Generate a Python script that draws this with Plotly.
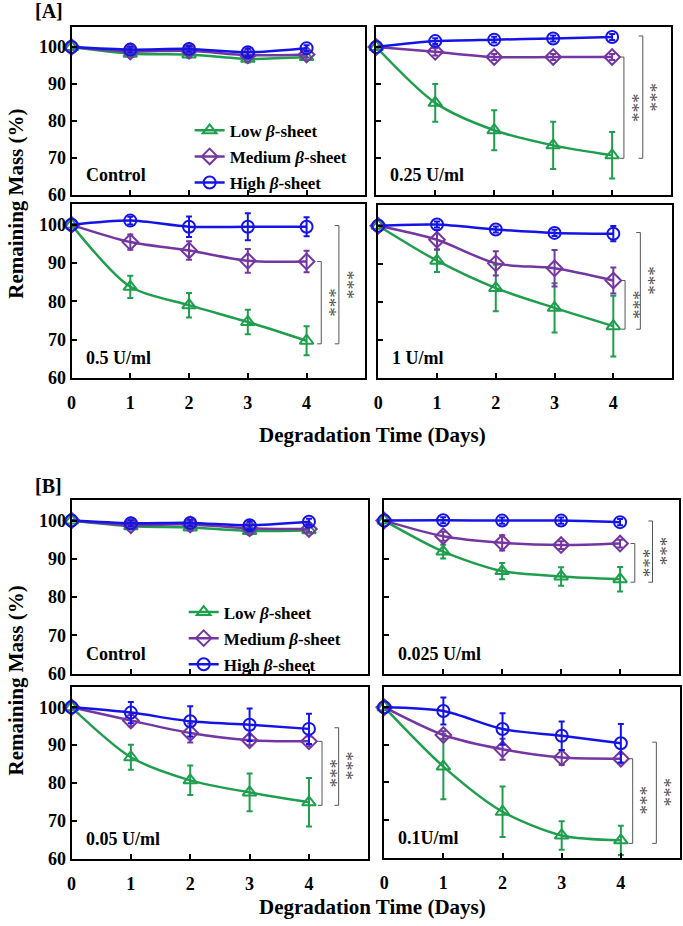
import plotly.graph_objects as go

W, H = 683, 926

days = [0, 1, 2, 3, 4]

# ---------------- Panel A ----------------
A_ctrl_low = [100, 98.2, 98.0, 96.8, 97.3]
A_ctrl_med = [100, 98.8, 99.0, 97.8, 98.0]
A_ctrl_high = [100, 99.3, 99.5, 98.6, 99.7]
A_ctrl_err = [0, 0.8, 0.8, 1.0, 0.8]

A_025_low = [100, 84.9, 77.5, 73.4, 70.7]
A_025_low_err = [0, 5.1, 5.4, 6.4, 6.3]
A_025_med = [100, 98.7, 97.3, 97.3, 97.3]
A_025_med_err = [0, 1.0, 0.8, 0.8, 0.8]
A_025_high = [100, 101.6, 102.0, 102.3, 102.7]
A_025_high_err = [0, 0.8, 0.8, 0.8, 0.8]

A_05_low = [100, 83.8, 79.0, 74.6, 69.7]
A_05_low_err = [0, 2.9, 3.2, 3.2, 3.8]
A_05_med = [100, 95.5, 93.3, 90.6, 90.4]
A_05_med_err = [0, 2.0, 2.4, 3.1, 2.8]
A_05_high = [100, 101.1, 99.5, 99.5, 99.5]
A_05_high_err = [0, 1.0, 2.7, 3.5, 2.5]

A_1_low = [100, 90.8, 83.6, 78.4, 73.6]
A_1_low_err = [0, 3.0, 6.1, 6.5, 8.0]
A_1_med = [100, 96.3, 90.1, 88.8, 85.6]
A_1_med_err = [0, 2.6, 3.2, 4.8, 3.4]
A_1_high = [100, 100.3, 99.0, 98.1, 97.9]
A_1_high_err = [0, 0.8, 0.8, 0.8, 2.0]

# ---------------- Panel B ----------------
B_ctrl_low = [100, 98.5, 98.2, 97.3, 97.5]
B_ctrl_med = [100, 98.8, 99.0, 98.0, 97.8]
B_ctrl_high = [100, 99.3, 99.4, 98.8, 99.7]
B_ctrl_err = [0, 0.8, 0.8, 1.0, 0.8]

B_0025_low = [100, 91.9, 86.8, 85.4, 84.7]
B_0025_low_err = [0, 1.8, 2.1, 2.4, 3.2]
B_0025_med = [100, 95.9, 94.2, 93.6, 94.0]
B_0025_med_err = [0, 1.2, 2.0, 1.0, 1.0]
B_0025_high = [100, 100.1, 100.0, 100.0, 99.6]
B_0025_high_err = [0, 0.8, 0.8, 0.8, 0.8]

B_005_low = [100, 86.8, 80.7, 77.5, 74.9]
B_005_low_err = [0, 3.3, 3.9, 5.0, 6.4]
B_005_med = [100, 96.5, 93.2, 91.3, 91.0]
B_005_med_err = [0, 1.5, 2.5, 1.3, 1.3]
B_005_high = [100, 98.6, 96.3, 95.4, 94.3]
B_005_high_err = [0, 2.8, 4.0, 4.3, 4.0]

B_01_low = [100, 84.2, 72.2, 65.9, 64.6]
B_01_low_err = [0, 8.7, 6.7, 3.8, 3.9]
B_01_med = [100, 92.6, 88.8, 86.6, 86.3]
B_01_med_err = [0, 1.0, 2.8, 2.0, 1.3]
B_01_high = [100, 99.0, 94.2, 92.4, 90.4]
B_01_high_err = [0, 3.6, 4.2, 3.8, 5.1]

panel_labels = ["Control", "0.25 U/ml", "0.5 U/ml", "1 U/ml",
                "Control", "0.025 U/ml", "0.05 U/ml", "0.1U/ml"]
series_names = ["Low <i>β</i>-sheet", "Medium <i>β</i>-sheet", "High <i>β</i>-sheet"]
y_ticks = [60, 70, 80, 90, 100]
x_ticks = [0, 1, 2, 3, 4]
sig_text = "***"

COLORS = ["#1f9e4e", "#7436a0", "#1414e6"]
SYMBOLS = ["triangle-up-open", "diamond-open", "circle-open"]
FONT = "Liberation Serif"

panels = [
    (A_ctrl_low, A_ctrl_err, A_ctrl_med, A_ctrl_err, A_ctrl_high, A_ctrl_err),
    (A_025_low, A_025_low_err, A_025_med, A_025_med_err, A_025_high, A_025_high_err),
    (A_05_low, A_05_low_err, A_05_med, A_05_med_err, A_05_high, A_05_high_err),
    (A_1_low, A_1_low_err, A_1_med, A_1_med_err, A_1_high, A_1_high_err),
    (B_ctrl_low, B_ctrl_err, B_ctrl_med, B_ctrl_err, B_ctrl_high, B_ctrl_err),
    (B_0025_low, B_0025_low_err, B_0025_med, B_0025_med_err, B_0025_high, B_0025_high_err),
    (B_005_low, B_005_low_err, B_005_med, B_005_med_err, B_005_high, B_005_high_err),
    (B_01_low, B_01_low_err, B_01_med, B_01_med_err, B_01_high, B_01_high_err),
]

# pixel boxes: (left, right, top, bottom)
boxes = [
    (67, 363, 27, 197), (374, 671, 27, 197),
    (67, 363, 206, 382), (376, 672, 207, 382),
    (67, 366, 505, 681), (382, 679, 505, 681),
    (67, 366, 694, 868), (382, 680, 694, 867),
]
# bracket x positions (inner, outer) in days, None for control
brackets = [None, (4.2, 4.52), (4.25, 4.55), (4.2, 4.46),
            None, (4.25, 4.55), (4.22, 4.5), (4.2, 4.6)]

fig = go.Figure()
layout = {}
annotations = []
shapes = []

for i, (box, data) in enumerate(zip(boxes, panels)):
    n = i + 1
    xa = "x" if n == 1 else f"x{n}"
    ya = "y" if n == 1 else f"y{n}"
    l, r, t, b = box
    left_col = i % 2 == 0
    bottom_row = i in (2, 3, 6, 7)
    layout[f"xaxis{n}"] = dict(
        domain=[l / W, r / W], anchor=ya, range=[0, 5],
        tickvals=x_ticks, showticklabels=bottom_row,
        ticks="inside", ticklen=5, tickwidth=1.5, tickcolor="black",
        showline=True, linewidth=2, linecolor="black", mirror=True,
        showgrid=False, zeroline=False, ticklabelstandoff=8,
        tickfont=dict(family=FONT, size=18, color="black", weight="bold"),
    )
    layout[f"yaxis{n}"] = dict(
        domain=[1 - b / H, 1 - t / H], anchor=xa, range=[60, 105.5],
        tickvals=y_ticks, showticklabels=left_col,
        ticks="inside", ticklen=5, tickwidth=1.5, tickcolor="black",
        showline=True, linewidth=2, linecolor="black", mirror=True,
        showgrid=False, zeroline=False,
        tickfont=dict(family=FONT, size=18, color="black", weight="bold"),
    )
    vals = [(data[0], data[1]), (data[2], data[3]), (data[4], data[5])]
    for k, (yv, ev) in enumerate(vals):
        legend_name = None
        show = False
        if i == 0:
            show, legend_name = True, "legend"
        elif i == 4:
            show, legend_name = True, "legend2"
        tr = dict(
            x=days, y=yv, xaxis=xa, yaxis=ya, mode="lines+markers",
            name=series_names[k], showlegend=show, legendgroup=f"g{k}_{i}",
            line=dict(color=COLORS[k], width=2.5, shape="spline", smoothing=0.8),
            marker=dict(symbol=SYMBOLS[k], size=12, color=COLORS[k],
                        line=dict(width=2, color=COLORS[k])),
            error_y=dict(type="data", array=ev, visible=True, color=COLORS[k],
                         thickness=2, width=3),
            cliponaxis=False,
        )
        if legend_name:
            tr["legend"] = legend_name
        fig.add_trace(go.Scatter(**tr))

    # panel label
    annotations.append(dict(
        text=f"<b>{panel_labels[i]}</b>", xref=f"{xa} domain", yref=f"{ya} domain",
        x=0, y=0, xanchor="left", yanchor="middle", xshift=12, yshift=20,
        showarrow=False, font=dict(family=FONT, size=18, color="black"),
    ))

    # significance brackets
    if brackets[i] is not None:
        low4 = data[0][-1]
        med4 = data[2][-1]
        high4 = data[4][-1]
        bottom = low4 - 0.8
        for bx, top in zip(brackets[i], (med4, high4 + 0.3)):
            tick = 0.07
            shapes.append(dict(
                type="path", xref=xa, yref=ya,
                path=f"M {bx - tick},{top} L {bx},{top} L {bx},{bottom} L {bx - tick},{bottom}",
                line=dict(color="#555555", width=1),
            ))
            annotations.append(dict(
                text=sig_text, xref=xa, yref=ya, x=bx + 0.14, y=(top + bottom) / 2,
                xanchor="center", yanchor="middle",
                showarrow=False, textangle=90,
                font=dict(family=FONT, size=19, color="#505050"),
            ))

# panel letters
for txt, yc in (("[A]", 11), ("[B]", 491)):
    annotations.append(dict(text=f"<b>{txt}</b>", xref="paper", yref="paper",
                            x=44 / W, y=1 - yc / H, xanchor="center", yanchor="middle",
                            showarrow=False, font=dict(family=FONT, size=20, color="black")))
# axis titles
for yc, xc in ((206, 440), (688, 917)):
    annotations.append(dict(text="<b>Remaining Mass (%)</b>", xref="paper", yref="paper",
                            x=11 / W, y=1 - yc / H, xanchor="center", yanchor="middle",
                            showarrow=False, textangle=-90,
                            font=dict(family=FONT, size=21, color="black")))
    annotations.append(dict(text="<b>Degradation Time (Days)</b>", xref="paper", yref="paper",
                            x=370 / W, y=1 - xc / H, xanchor="center", yanchor="middle",
                            showarrow=False,
                            font=dict(family=FONT, size=21, color="black")))

legend_common = dict(xanchor="left", yanchor="top", bgcolor="rgba(0,0,0,0)",
                     font=dict(family=FONT, size=17, color="black", weight="bold"),
                     tracegroupgap=1, itemwidth=30)

fig.update_layout(
    width=W, height=H,
    margin=dict(l=0, r=0, t=0, b=0),
    paper_bgcolor="white", plot_bgcolor="white",
    font=dict(family=FONT, color="black"),
    annotations=annotations, shapes=shapes,
    legend=dict(x=186 / W, y=1 - 114 / H, **legend_common),
    legend2=dict(x=180 / W, y=1 - 601 / H, **legend_common),
    **layout,
)

fig.write_html("out.html", config={"displayModeBar": False},
               post_script="document.body.style.margin='0';document.body.style.overflow='hidden';")
